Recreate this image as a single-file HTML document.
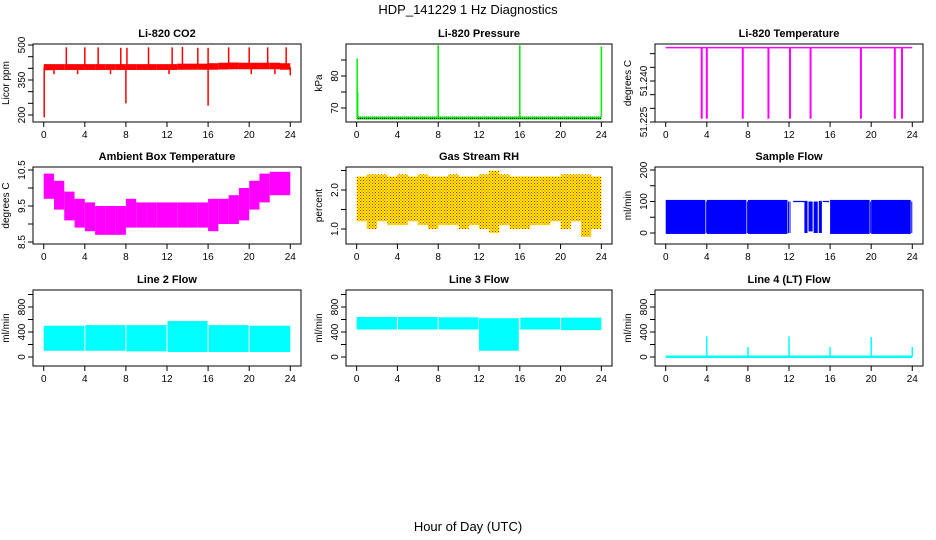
<!DOCTYPE html>
<html><head><meta charset="utf-8"><style>
html,body{margin:0;padding:0;background:#fff;}
svg{display:block;font-family:"Liberation Sans",sans-serif;}
</style></head><body>
<svg id="chart" width="936" height="540" viewBox="0 0 936 540">
<defs>
<pattern id="rhpat" width="3" height="3" patternUnits="userSpaceOnUse"><rect width="3" height="3" fill="#ffff00"/><rect width="1" height="1" fill="#ff0000"/><rect x="1.5" y="1.5" width="1" height="1" fill="#ff0000"/></pattern>
<pattern id="prpat" width="2" height="2" patternUnits="userSpaceOnUse"><rect width="2" height="2" fill="#00ee00"/><rect width="1" height="1" fill="#000"/></pattern>
</defs>
<text x="468" y="14" text-anchor="middle" font-size="13">HDP_141229  1 Hz Diagnostics</text>
<text x="468" y="531" text-anchor="middle" font-size="13">Hour of Day (UTC)</text>
</svg>
<script>
// ---- data ----
const xTicks = [0,4,8,12,16,20,24];
// CO2 hourly band
const co2Low  = [392,393,393,393,393,393,393,393,393,393,393,393,393,394,394,394,394,395,396,396,396,396,396,394];
const co2High = [418,418,418,418,418,418,418,418,418,418,418,418,418,420,420,420,422,424,425,424,424,424,424,422];
const co2SpikeT = [2.2,4.0,5.3,7.5,8.1,10.2,12.5,13.5,15.0,16.0,18.0,20.0,21.8,23.6,0.05,8.0,16.0,1.0,3.3,6.5,12.2,20.2,22.5,24.0];
const co2SpikeV = [490,490,490,488,488,490,490,492,488,488,490,490,490,490,190,250,240,375,375,375,375,375,375,370];
// Pressure
const prBaseLow = 66.4, prBaseHigh = 67.3;
const prSpikeT = [0.05,0.1,8.0,16.0,24.0];
const prSpikeV = [85.5,75.0,89.6,89.6,89.2];
// Li-820 temperature
const tmpLevel = 51.2522;
const tmpDropT = [3.5,4.0,7.5,10.0,12.1,14.1,19.0,22.3,23.0];
const tmpDropV = [51.2262,51.2262,51.2262,51.2262,51.2262,51.2262,51.2262,51.2262,51.2262];
// Ambient box temperature hourly band
const ambLow  = [9.7,9.4,9.1,8.9,8.8,8.7,8.7,8.7,8.9,8.9,8.9,8.9,8.9,8.9,8.9,8.9,8.8,9.0,9.0,9.1,9.4,9.6,9.8,9.8];
const ambHigh = [10.4,10.2,9.9,9.7,9.6,9.5,9.5,9.5,9.7,9.6,9.6,9.6,9.6,9.6,9.6,9.6,9.7,9.7,9.8,10.0,10.2,10.4,10.45,10.45];
// Gas stream RH hourly band
const rhLow  = [1.2,1.0,1.2,1.1,1.1,1.2,1.1,1.0,1.1,1.1,1.0,1.1,1.0,0.9,1.1,1.0,1.0,1.1,1.1,1.2,1.0,1.2,0.8,1.0];
const rhHigh = [2.35,2.4,2.4,2.35,2.4,2.35,2.4,2.35,2.35,2.4,2.35,2.35,2.4,2.5,2.4,2.35,2.35,2.35,2.35,2.35,2.4,2.4,2.4,2.35];
// Sample flow segments
const sfStart = [0,3.9,4.0,7.9,8.0,11.9,12.05,12.4,13.5,13.9,14.4,14.9,15.3,16.0,19.9,20.0,23.9];
const sfEnd   = [3.85,3.95,7.85,7.95,11.85,12.0,12.1,13.5,13.8,14.3,14.8,15.2,15.9,19.85,19.95,23.85,24.0];
const sfLow   = [-3,0,-3,0,-3,0,0,98,0,5,0,0,98,-3,0,-3,0];
const sfHigh  = [105,100,105,100,105,100,100,102,102,100,100,102,102,105,100,105,100];
// Line 2 flow segments
const l2Start = [0,4.05,8.05,12.05,16.05,20.05];
const l2End   = [3.95,7.95,11.95,15.95,19.95,24.0];
const l2Low   = [100,100,90,80,80,80];
const l2High  = [500,510,510,575,510,500];
// Line 3 flow segments
const l3Start = [0,4.05,8.05,12.0,16.05,20.05];
const l3End   = [3.95,7.95,11.95,15.9,19.95,24.0];
const l3Low   = [440,440,440,100,440,430];
const l3High  = [640,640,635,620,630,630];
// Line 4 flow
const l4Base = 5;
const l4SpikeT = [4,8,12,16,20,24];
const l4SpikeV = [330,160,330,160,320,160];

// ---- layout ----
const cols=[[33,301],[346,612],[655,923]];
const rows=[[44,122],[167,244],[290,366]];
const svg=document.getElementById('chart');
const NS='http://www.w3.org/2000/svg';
function mk(tag,attrs,parent){const e=document.createElementNS(NS,tag);for(const k in attrs)e.setAttribute(k,attrs[k]);(parent||svg).appendChild(e);return e;}

function panel(ci,ri,title,ytitle,yAt,ticks,labels,name){
  const [L,R]=cols[ci],[T,B]=rows[ri];
  const g=mk('g',{});
  
  
  const x0=L+(R-L)*0.04, x1=R-(R-L)*0.04;
  const xs=t=>x0+(x1-x0)*t/24;
  const ys=v=>yAt[0][1]+(v-yAt[0][0])*(yAt[1][1]-yAt[0][1])/(yAt[1][0]-yAt[0][0]);
  const plot=mk('g',{},g);
  
  
  const t=mk('text',{x:(L+R)/2,y:T-7,'text-anchor':'middle','font-size':11,'font-weight':'bold'},g);
  t.textContent=title;
  
  
  const yt=mk('text',{x:0,y:0,'text-anchor':'middle','font-size':10,transform:`translate(${L-24},${(T+B)/2}) rotate(-90)`},g);
  yt.textContent=ytitle;
  
  
  const box=mk('rect',{x:L,y:T,width:R-L,height:B-T,fill:'none',stroke:'#000','stroke-width':1},g);
  
  
  xTicks.forEach(v=>{
    const x=xs(v);
    mk('line',{x1:x,y1:B,x2:x,y2:B+5,stroke:'#000'},g);
    const lb=mk('text',{x:x,y:B+16,'text-anchor':'middle','font-size':10},g);
    lb.textContent=v;
    
    
  });
  ticks.forEach((v,i)=>{
    const y=ys(v);
    mk('line',{x1:L-5,y1:y,x2:L,y2:y,stroke:'#000'},g);
    if(labels[i]){
      const lb=mk('text',{x:0,y:0,'text-anchor':'middle','font-size':10,transform:`translate(${L-8},${y}) rotate(-90)`},g);
      lb.textContent=labels[i];
      
      
    }
  });
  return {xs,ys,plot,L,R,T,B};
}
function band(p,t0,t1,lo,hi,fill){
  const x=p.xs(t0),w=Math.max(1,p.xs(t1)-x),y=p.ys(hi),h=Math.max(1,p.ys(lo)-y);
  const r=mk('rect',{x:x,y:y,width:w,height:h,fill:fill},p.plot);
  
  
}
function spike(p,t,from,to,color,w){
  const l=mk('line',{x1:p.xs(t),x2:p.xs(t),y1:p.ys(from),y2:p.ys(to),stroke:color,'stroke-width':w||1},p.plot);
  
  
}

// CO2
let p=panel(0,0,'Li-820 CO2','Licor ppm',[[500,45],[200,115]],[200,250,300,350,400,450,500],['200','','','350','','','500'],'co2');
co2Low.forEach((v,i)=>band(p,i,i+1,v,co2High[i],'#ff0000'));
co2SpikeT.forEach((t,i)=>spike(p,t,405,co2SpikeV[i],'#ff0000',1.5));

// Pressure
p=panel(1,0,'Li-820 Pressure','kPa',[[80,76],[70,108]],[70,75,80,85],['70','','80',''],'pressure');
band(p,0,24,prBaseLow,prBaseHigh,'url(#prpat)');
prSpikeT.forEach((t,i)=>spike(p,t,prBaseHigh,prSpikeV[i],'#00ee00',1.5));

// Li-820 temperature
p=panel(2,0,'Li-820 Temperature','degrees C',[[51.240,81],[51.225,122]],[51.225,51.230,51.235,51.240,51.245,51.250],['51.225','','','51.240','',''],'li820-temp');
const tl=mk('line',{x1:p.xs(0),x2:p.xs(24),y1:p.ys(tmpLevel),y2:p.ys(tmpLevel),stroke:'#ff00ff','stroke-width':1.5},p.plot);


tmpDropT.forEach((t,i)=>spike(p,t,tmpLevel,tmpDropV[i],'#ff00ff',2));

// Ambient
p=panel(0,1,'Ambient Box Temperature','degrees C',[[10.5,170],[8.5,242]],[8.5,9.0,9.5,10.0,10.5],['8.5','','9.5','','10.5'],'ambient-temp');
ambLow.forEach((v,i)=>band(p,i,i+1,v,ambHigh[i],'#ff00ff'));

// RH
p=panel(1,1,'Gas Stream RH','percent',[[2.0,190],[1.0,229]],[1.0,1.5,2.0,2.5],['1.0','','2.0',''],'gas-rh');
rhLow.forEach((v,i)=>band(p,i,i+1,v,rhHigh[i],'url(#rhpat)'));

// Sample flow
p=panel(2,1,'Sample Flow','ml/min',[[200,170],[0,233]],[0,50,100,150,200],['0','','100','','200'],'sample-flow');
sfStart.forEach((s,i)=>band(p,s,sfEnd[i],sfLow[i],sfHigh[i],'#0000ff'));

// Line 2
p=panel(0,2,'Line 2 Flow','ml/min',[[800,307],[0,357]],[0,200,400,600,800,1000],['0','','400','','800',''],'line2-flow');
l2Start.forEach((s,i)=>band(p,s,l2End[i],l2Low[i],l2High[i],'#00ffff'));

// Line 3
p=panel(1,2,'Line 3 Flow','ml/min',[[800,307],[0,357]],[0,200,400,600,800,1000],['0','','400','','800',''],'line3-flow');
l3Start.forEach((s,i)=>band(p,s,l3End[i],l3Low[i],l3High[i],'#00ffff'));

// Line 4
p=panel(2,2,'Line 4 (LT) Flow','ml/min',[[800,307],[0,357]],[0,200,400,600,800,1000],['0','','400','','800',''],'line4-flow');
const bl=mk('line',{x1:p.xs(0),x2:p.xs(24),y1:p.ys(l4Base),y2:p.ys(l4Base),stroke:'#00ffff','stroke-width':2.5},p.plot);


l4SpikeT.forEach((t,i)=>spike(p,t,l4Base,l4SpikeV[i],'#00ffff',1.5));
</script>
</body></html>
